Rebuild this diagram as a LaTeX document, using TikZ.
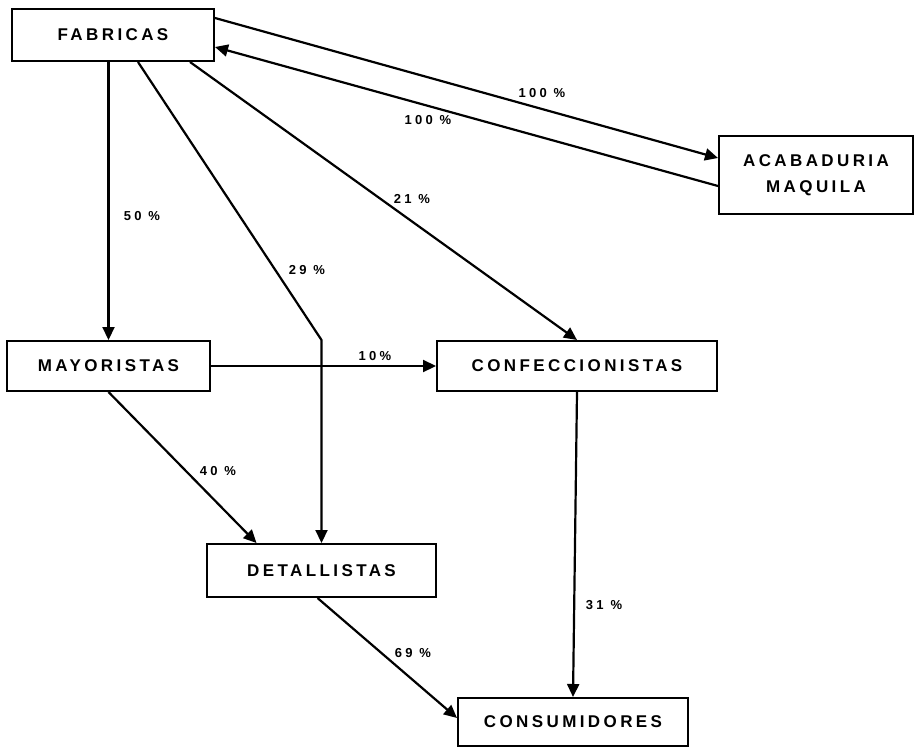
\documentclass[tikz,border=0pt]{standalone}
\usepackage{fontspec}
\setmainfont{Liberation Sans}
\newfontfamily\boxfont[LetterSpace=20]{Liberation Sans}
\newfontfamily\pctfont[LetterSpace=25]{Liberation Sans}
\usetikzlibrary{arrows.meta}
\begin{document}
\begin{tikzpicture}[x=1pt,y=-1pt,line width=2.2pt,
 box/.style={draw,line width=2pt,inner sep=0pt,align=center,font=\boxfont\bfseries\fontsize{17}{26}\selectfont},
 pct/.style={inner sep=1pt,font=\pctfont\bfseries\fontsize{13}{15}\selectfont},
 flow/.style={-{Triangle[length=13pt,width=12pt]}}]
\useasboundingbox (0,0) rectangle (915,749);

\node[box,minimum width=202pt,minimum height=52pt] (fab) at (113,35) {FABRICAS};
\node[box,minimum width=194pt,minimum height=78pt] (acab) at (816,175) {ACABADURIA\\MAQUILA};
\node[box,minimum width=203pt,minimum height=50pt] (may) at (108.5,366) {MAYORISTAS};
\node[box,minimum width=280pt,minimum height=50pt] (conf) at (577,366) {CONFECCIONISTAS};
\node[box,minimum width=229pt,minimum height=53pt] (det) at (321.5,570.5) {DETALLISTAS};
\node[box,minimum width=230pt,minimum height=48pt] (cons) at (573,722) {CONSUMIDORES};

\node[pct] (p100a) at (542,93) {100 \%};
\node[pct] (p100b) at (428,120) {100 \%};
\node[pct] (p50) at (142,216) {50 \%};
\node[pct] (p29) at (307,270) {29 \%};
\node[pct] (p21) at (412,199) {21 \%};
\node[pct] (p10) at (375,356) {10\%};
\node[pct] (p40) at (218,471) {40 \%};
\node[pct] (p31) at (604,605) {31 \%};
\node[pct] (p69) at (413,653) {69 \%};

\draw[flow] ([yshift=-10pt]fab.north east) -- ([yshift=17pt]acab.west);
\draw[flow] ([yshift=-11pt]acab.west) -- ([yshift=-12pt]fab.east);
\draw[flow] (may.north |- fab.south) -- (may.north);
\draw[flow] ([xshift=25pt]fab.south) -- (det.north |- may.north) -- (det.north);
\draw[flow] ([xshift=77pt]fab.south) -- (conf.north);
\draw[flow] (may.east) -- (conf.west);
\draw[flow] (may.south) -- ([xshift=-65pt]det.north);
\draw[flow] (conf.south) -- (cons.north);
\draw[flow] ([xshift=-4pt]det.south) -- ([yshift=4pt]cons.west);
\end{tikzpicture}
\end{document}
